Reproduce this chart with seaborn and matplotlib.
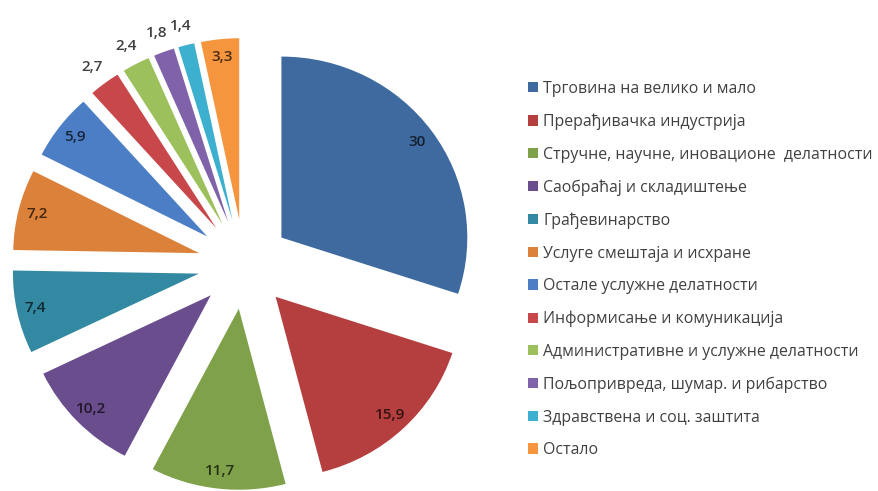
import matplotlib
matplotlib.use("Agg")
import matplotlib.pyplot as plt
import matplotlib.colors as mcolors
import numpy as np
import seaborn as sns

sns.set_theme(style="white")
plt.rcParams["font.family"] = ["Open Sans", "DejaVu Sans"]

# Structure of enterprises by sector (%)
categories = [
    "Трговина на велико и мало",
    "Прерађивачка индустрија",
    "Стручне, научне, иновационе  делатности",
    "Саобраћај и складиштење",
    "Грађевинарство",
    "Услуге смештаја и исхране",
    "Остале услужне делатности",
    "Информисање и комуникација",
    "Административне и услужне делатности",
    "Пољопривреда, шумар. и рибарство",
    "Здравствена и соц. заштита",
    "Остало",
]
values = [30, 15.9, 11.7, 10.2, 7.4, 7.2, 5.9, 2.7, 2.4, 1.8, 1.4, 3.3]

colors = [
    "#3F6A9F", "#B43F3E", "#7FA14A", "#6A4D8D", "#3389A2", "#DB813A",
    "#4C7EC6", "#C8474A", "#9CC05B", "#7F62AA", "#3DB0CF", "#F5963F",
]

W, H = 879, 491
fig = plt.figure(figsize=(W / 100, H / 100), dpi=100)
ax = fig.add_axes([0, 0, 1, 1])

stretch = 1.027  # pie is drawn slightly wider than tall
radius = 181
center = (244 / stretch, H - 264)
gap = 45  # offset of every slice from the centre
wedges, _ = ax.pie(
    values,
    colors=colors,
    startangle=90,
    counterclock=False,
    explode=[gap] * len(values),
    radius=radius,
    center=center,
    wedgeprops=dict(linewidth=0),
)
ax.set_aspect("auto")
ax.set_xlim(0, W / stretch)
ax.set_ylim(0, H)
ax.axis("off")

# Value labels: inside near the outer edge, small slices just outside
outside = {2.7, 2.4, 1.8, 1.4}
for w, v, c in zip(wedges, values, colors):
    mid = np.deg2rad((w.theta1 + w.theta2) / 2)
    cx, cy = w.center
    if v in outside:
        d, col = 1.11, "#404040"
    else:
        d = 0.9
        col = tuple(np.array(mcolors.to_rgb(c)) * 0.3)
    x = cx + d * radius * np.cos(mid)
    y = cy + d * radius * np.sin(mid)
    ax.text(x, y, f"{v:g}".replace(".", ","), ha="center", va="center",
            fontsize=11, color=col, fontweight="semibold")

leg = ax.legend(
    wedges, categories,
    loc="upper left",
    bbox_to_anchor=(520 / W, 1 - 73 / H),
    frameon=False,
    fontsize=11.4,
    handlelength=0.62,
    handleheight=0.62,
    handletextpad=0.35,
    labelspacing=1.05,
    borderpad=0,
)
for t in leg.get_texts():
    t.set_color("#404040")

fig.savefig("out.png", dpi=100)
